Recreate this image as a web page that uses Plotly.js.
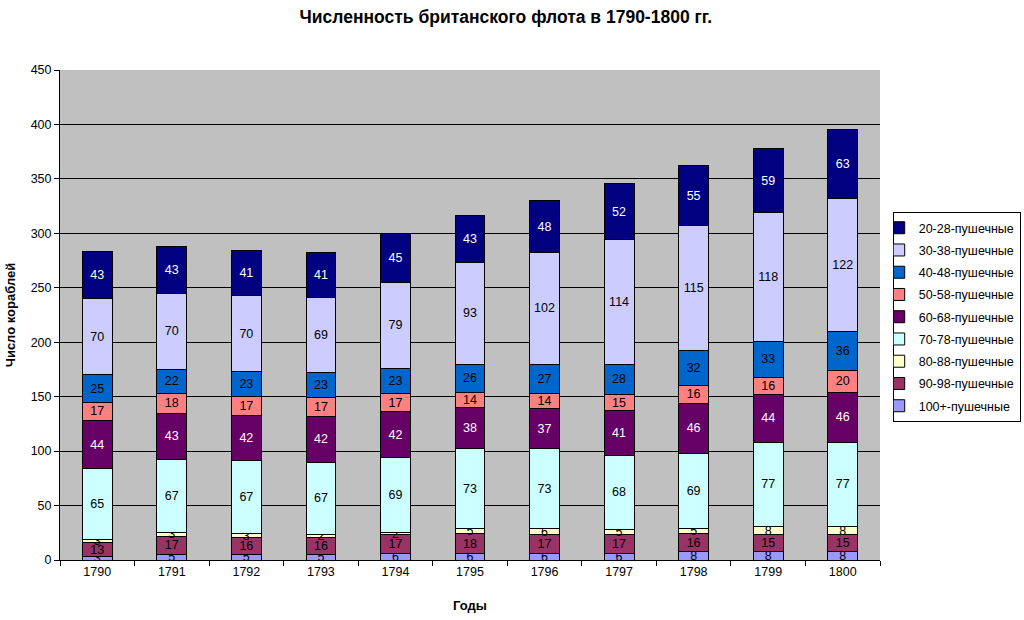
<!DOCTYPE html>
<html>
<head>
<meta charset="utf-8">
<script src="https://cdn.plot.ly/plotly-3.0.1.min.js"></script>
<style>html,body{margin:0;padding:0;background:#fff;}#chart{width:1024px;height:620px;}</style>
</head>
<body>
<div id="chart"></div>
<script>
const years = ['1790','1791','1792','1793','1794','1795','1796','1797','1798','1799','1800'];
const seriesNames = ['100+-пушечные','90-98-пушечные','80-88-пушечные','70-78-пушечные','60-68-пушечные','50-58-пушечные','40-48-пушечные','30-38-пушечные','20-28-пушечные'];
const s100 = [3,5,5,5,6,6,6,6,8,8,8];
const s90 = [13,17,16,16,17,18,17,17,16,15,15];
const s80 = [3,3,3,2,2,5,6,5,5,8,8];
const s70 = [65,67,67,67,69,73,73,68,69,77,77];
const s60 = [44,43,42,42,42,38,37,41,46,44,46];
const s50 = [17,18,17,17,17,14,14,15,16,16,20];
const s40 = [25,22,23,23,23,26,27,28,32,33,36];
const s30 = [70,70,70,69,79,93,102,114,115,118,122];
const s20 = [43,43,41,41,45,43,48,52,55,59,63];
const seriesValues = [s100,s90,s80,s70,s60,s50,s40,s30,s20];
const colors = ['#9999FF','#993366','#FFFFCC','#CCFFFF','#660066','#FF8080','#0066CC','#CCCCFF','#000080'];
const textColors = ['#000','#000','#000','#000','#fff','#000','#000','#000','#fff'];

const traces = seriesValues.map((vals,i)=>({
  type:'bar', name:seriesNames[i], x:years, y:vals, legendgroup:'g'+i, legendrank:100-i*10,
  marker:{color:colors[i], line:{color:'#000', width:1}},
  text:vals.map(String), textposition:'inside', insidetextanchor:'middle',
  textangle:0, constraintext:'none',
  textfont:{family:'Arial, Liberation Sans, sans-serif', size:12.5, color:textColors[i]},
  hoverinfo:'none'
}));

const layout = {
  width:1024, height:620,
  margin:{l:60, r:144, t:70, b:60, autoexpand:false},
  barmode:'stack', bargap:0.6,
  paper_bgcolor:'#fff', plot_bgcolor:'#C0C0C0',
  font:{family:'Arial, Liberation Sans, sans-serif', size:12.5, color:'#000'},
  uniformtext:{mode:'show', minsize:12.5},
  title:{text:'<b>Численность британского флота в 1790-1800 гг.</b>', x:0.494, xanchor:'center', y:0.972, yanchor:'middle', font:{size:17.5, color:'#000'}},
  xaxis:{type:'category', showline:true, linecolor:'#000', linewidth:1, ticks:'outside', tickson:'boundaries', ticklen:5, tickcolor:'#000',
    tickfont:{size:12.5}, title:{text:'<b>Годы</b>', font:{size:13}, standoff:22}, showgrid:false, mirror:false},
  yaxis:{range:[0,450], dtick:50, showline:true, linecolor:'#000', linewidth:1, ticks:'outside', ticklen:5, tickcolor:'#000',
    gridcolor:'#000', gridwidth:1, tickfont:{size:12.5}, zeroline:false,
    title:{text:'<b>Число кораблей</b>', font:{size:13}, standoff:12}},
  legend:{x:1.0155, xanchor:'left', xref:'paper', y:0.710, yanchor:'top', traceorder:'grouped', indentation:-15,
    bgcolor:'#fff', bordercolor:'#000', borderwidth:1, font:{size:12.5}, itemwidth:30, tracegroupgap:3}
};
Plotly.newPlot('chart', traces, layout, {displayModeBar:false, staticPlot:true});
</script>
</body>
</html>
